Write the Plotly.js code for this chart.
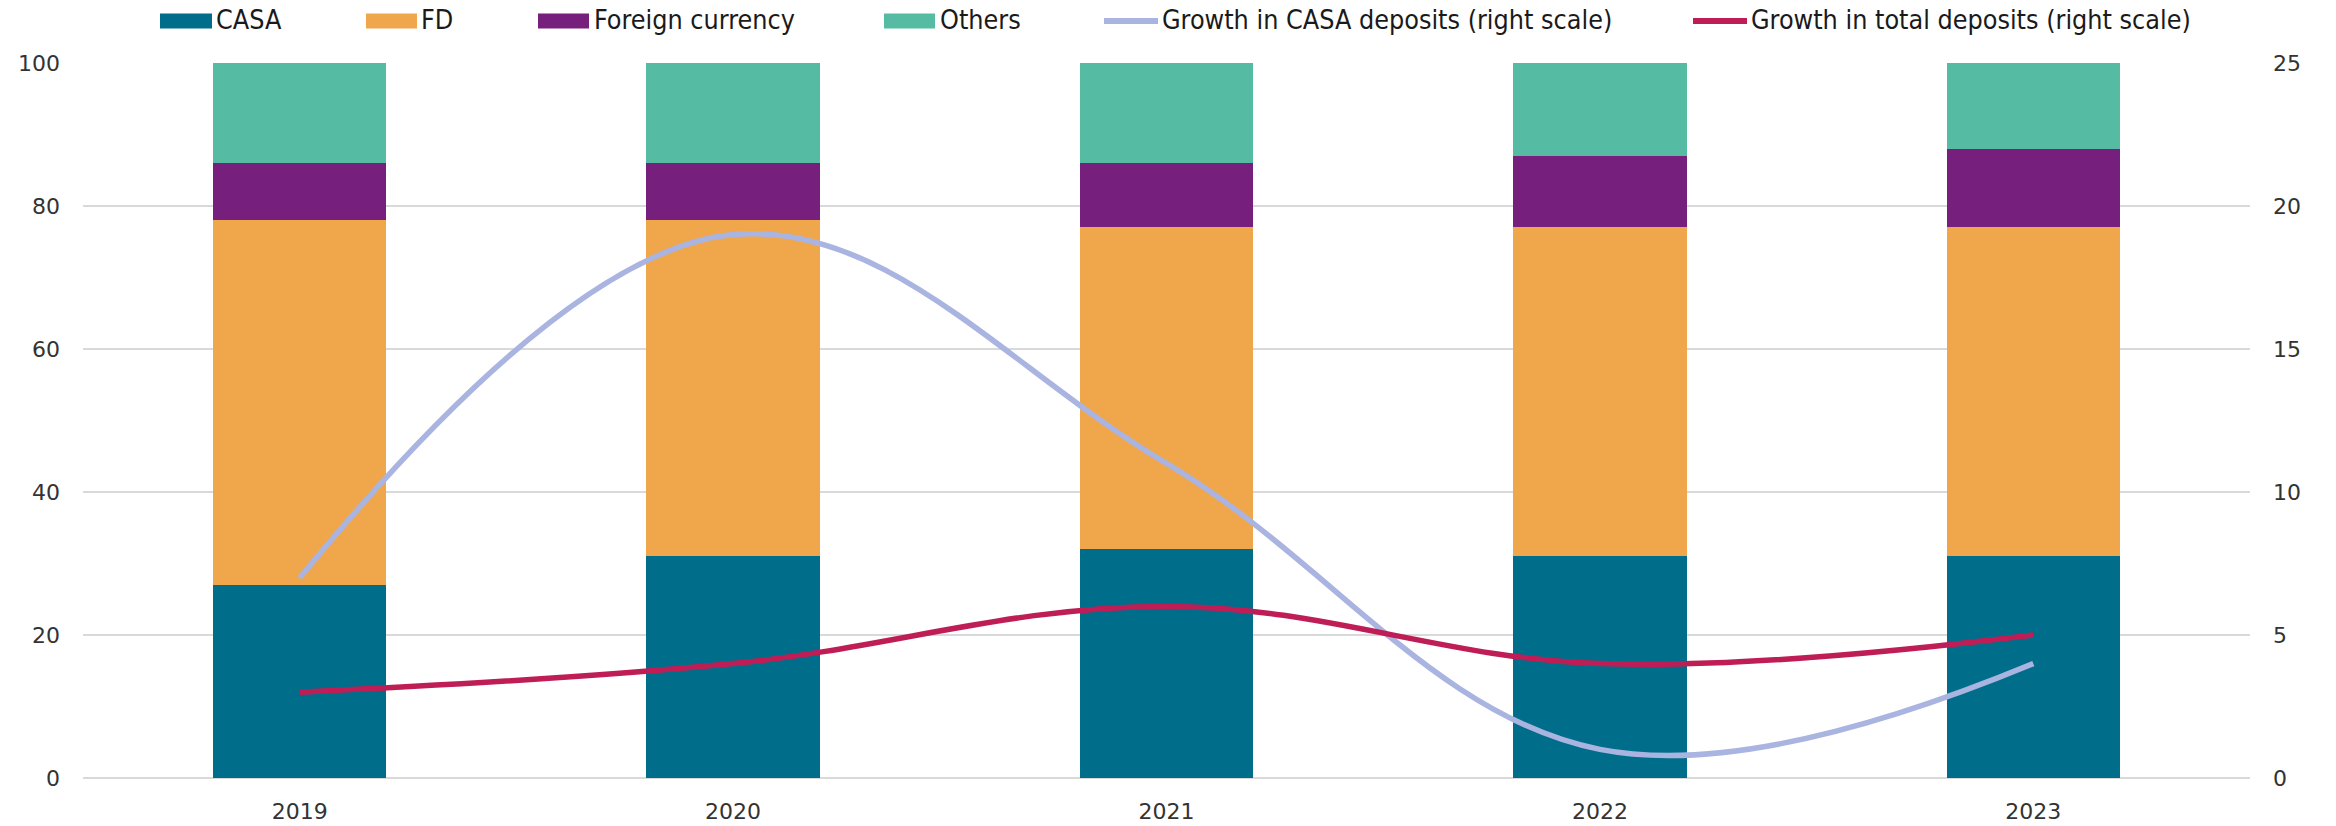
<!DOCTYPE html>
<html>
<head>
<meta charset="utf-8">
<script src="https://cdn.plot.ly/plotly-3.0.1.min.js"></script>
<style>html,body{margin:0;padding:0;background:#fff;}#chart{width:2336px;height:826px;}</style>
</head>
<body>
<div id="chart"></div>
<script>
const years = ['2019', '2020', '2021', '2022', '2023'];
const casa = [27, 31, 32, 31, 31];
const fd = [51, 47, 45, 46, 46];
const foreignCurrency = [8, 8, 9, 10, 11];
const others = [14, 14, 14, 13, 12];
const casaGrowth = [7, 19, 11, 1, 4];
const totalGrowth = [3, 4, 6, 4, 5];
const leftTicks = [0, 20, 40, 60, 80, 100];
const rightTicks = [0, 5, 10, 15, 20, 25];

const W = 2336, H = 826;
const M = {l: 83, r: 86, t: 63, b: 48};
const pw = W - M.l - M.r, ph = H - M.t - M.b;
const px = x => (x - M.l) / pw;
const py = y => (H - M.b - y) / ph;

const colors = {
  casa: '#006E8A', fd: '#F0A64A', fc: '#771F7C', others: '#55BBA2',
  casaGrowth: '#AAB4E0', totalGrowth: '#BE1E55'
};

const barTrace = (name, y, color) => ({
  type: 'bar', name: name, x: years, y: y, marker: {color: color, line: {width: 0}},
  showlegend: false, hoverinfo: 'name+y'
});

const data = [
  barTrace('CASA', casa, colors.casa),
  barTrace('FD', fd, colors.fd),
  barTrace('Foreign currency', foreignCurrency, colors.fc),
  barTrace('Others', others, colors.others),
  {type: 'scatter', mode: 'lines', name: 'Growth in CASA deposits (right scale)', x: years, y: casaGrowth,
   yaxis: 'y2', line: {color: colors.casaGrowth, width: 5.5, shape: 'spline', smoothing: 1.1}, showlegend: false},
  {type: 'scatter', mode: 'lines', name: 'Growth in total deposits (right scale)', x: years, y: totalGrowth,
   yaxis: 'y2', line: {color: colors.totalGrowth, width: 5.5, shape: 'spline', smoothing: 1.1}, showlegend: false}
];

// manual legend
const legendItems = [
  {name: 'CASA', kind: 'box', color: colors.casa, x0: 160, x1: 212, tx: 215},
  {name: 'FD', kind: 'box', color: colors.fd, x0: 366, x1: 417, tx: 420},
  {name: 'Foreign currency', kind: 'box', color: colors.fc, x0: 538, x1: 589, tx: 593},
  {name: 'Others', kind: 'box', color: colors.others, x0: 884, x1: 935, tx: 939},
  {name: 'Growth in CASA deposits (right scale)', kind: 'line', color: colors.casaGrowth, x0: 1104, x1: 1158, tx: 1161},
  {name: 'Growth in total deposits (right scale)', kind: 'line', color: colors.totalGrowth, x0: 1693, x1: 1747, tx: 1750}
];
const legY = 21;
const shapes = [], annotations = [];
legendItems.forEach(it => {
  if (it.kind === 'box') {
    shapes.push({type: 'rect', xref: 'paper', yref: 'paper', x0: px(it.x0), x1: px(it.x1),
      y0: py(legY + 7.5), y1: py(legY - 7.5), fillcolor: it.color, line: {width: 0}, layer: 'above'});
  } else {
    shapes.push({type: 'line', xref: 'paper', yref: 'paper', x0: px(it.x0), x1: px(it.x1),
      y0: py(legY), y1: py(legY), line: {color: it.color, width: 6}, layer: 'above'});
  }
  annotations.push({text: it.name, xref: 'paper', yref: 'paper', x: px(it.tx), y: py(legY - 1),
    xanchor: 'left', yanchor: 'middle', showarrow: false, borderpad: 0,
    font: {family: 'DejaVu Sans Condensed, DejaVu Sans', size: 26.7, color: '#1a1a1a'}});
});

const tickFont = {family: 'DejaVu Sans', size: 22, color: '#333333'};

const layout = {
  width: W, height: H,
  margin: M,
  paper_bgcolor: '#ffffff', plot_bgcolor: '#ffffff',
  barmode: 'stack', bargap: 0.6,
  showlegend: false,
  xaxis: {type: 'category', tickfont: tickFont, showgrid: false, zeroline: false, showline: false,
    ticks: '', ticklabelstandoff: 18, fixedrange: true},
  yaxis: {range: [0, 100], tickvals: leftTicks, ticktext: leftTicks.map(String), tickfont: tickFont,
    showgrid: true, gridcolor: '#d9d9d9', gridwidth: 1.5, zeroline: true, zerolinecolor: '#d9d9d9',
    zerolinewidth: 1.5, showline: false, ticks: '', ticklabelstandoff: 22, fixedrange: true},
  yaxis2: {range: [0, 25], tickvals: rightTicks, ticktext: rightTicks.map(String), tickfont: tickFont,
    overlaying: 'y', side: 'right', showgrid: false, zeroline: false, showline: false, ticks: '',
    ticklabelstandoff: 22, fixedrange: true},
  shapes: shapes,
  annotations: annotations
};

Plotly.newPlot('chart', data, layout, {displayModeBar: false, staticPlot: true});
</script>
</body>
</html>
